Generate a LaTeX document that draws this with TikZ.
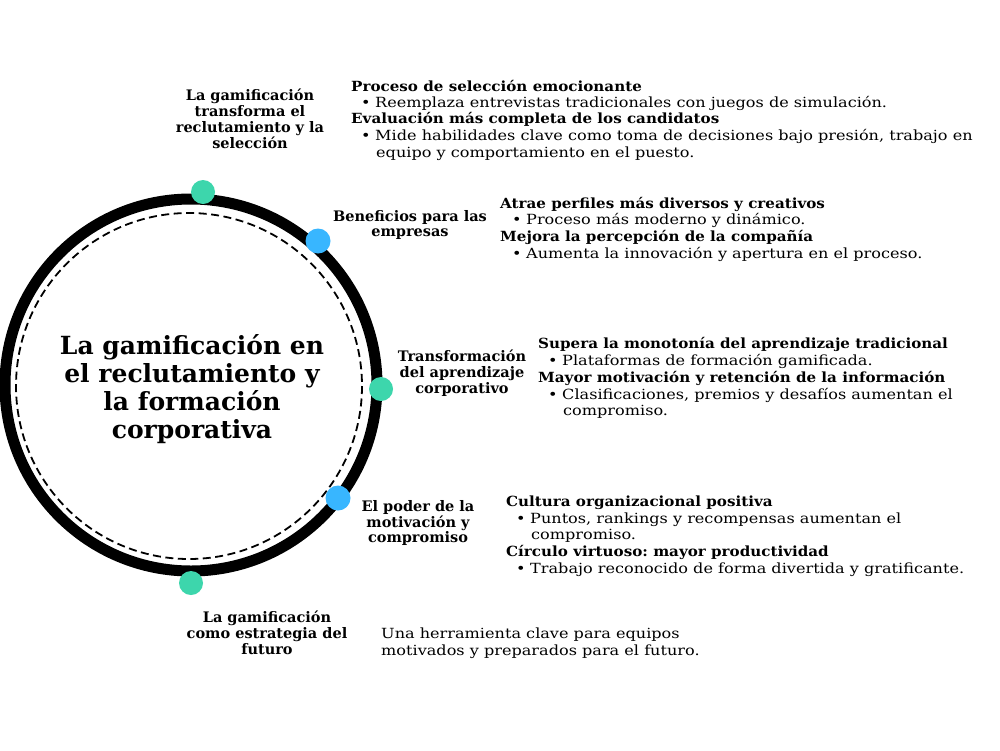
\documentclass[tikz,border=0pt]{standalone}
\usepackage{fontspec}
\setmainfont{DejaVu Serif}
\newfontfamily\bodyf[FakeStretch=1.15]{DejaVu Serif}
\newfontfamily\headf[FakeStretch=1.08]{DejaVu Serif}
\definecolor{dotgreen}{HTML}{3DD6AC}
\definecolor{dotblue}{HTML}{38B6FF}
\frenchspacing
\tikzset{
  ring/.style={line width=11pt, draw=black},
  dashring/.style={line width=1.8pt, draw=black, dash pattern=on 8pt off 4.5pt},
  gdot/.style={circle, fill=dotgreen, minimum size=24pt, inner sep=0pt},
  bdot/.style={circle, fill=dotblue, minimum size=25pt, inner sep=0pt},
  title/.style={align=center, font=\fontsize{25}{28}\selectfont\bfseries, inner sep=0pt},
  lbl/.style={align=center, font=\fontsize{14.5}{15.8}\selectfont\bfseries, inner sep=0pt},
  head/.style={anchor=base west, inner sep=0pt, font=\headf\fontsize{14}{15}\selectfont\bfseries},
  body/.style={anchor=base west, inner sep=0pt, font=\bodyf\fontsize{14}{15}\selectfont},
}
\newcommand{\bul}{\makebox[14pt][l]{\textbullet}}
\begin{document}
\begin{tikzpicture}[x=1pt,y=-1pt]
\useasboundingbox[fill=white] (0,0) rectangle (1000,750);
% circles
\node[circle, minimum size=372pt, inner sep=0pt] (ringc) at (191,385) {};
\draw[ring] (191,385) circle (186);
\draw[dashring] (189,386) circle (173);
\node[title] (t) at (192,389) {La gamificación en\\el reclutamiento y\\la formación\\corporativa};
% dots
\node[gdot] (d1) at (203,192) {};
\node[bdot] (d2) at (318,241) {};
\node[gdot] (d3) at (381,389) {};
\node[bdot] (d4) at (338,498) {};
\node[gdot] (d5) at (191,583) {};
% labels
\node[lbl] (l1) at (250,119) {La gamificación\\transforma el\\reclutamiento y la\\selección};
\node[lbl] (l2) at (410,225) {Beneficios para las\\empresas};
\node[lbl] (l3) at (462,373) {Transformación\\del aprendizaje\\corporativo};
\node[lbl] (l4) at (418,523) {El poder de la\\motivación y\\compromiso};
\node[lbl] (l5) at (267,633) {La gamificación\\como estrategia del\\futuro};
% block 1
\node[head] (a1) at (351,91) {Proceso de selección emocionante};
\node[body] (a2) at (361,107) {\bul Reemplaza entrevistas tradicionales con juegos de simulación.};
\node[head] (a3) at (351,123) {Evaluación más completa de los candidatos};
\node[body] (a4) at (361,140) {\bul Mide habilidades clave como toma de decisiones bajo presión, trabajo en};
\node[body] (a5) at (376,157) {equipo y comportamiento en el puesto.};
% block 2
\node[head] (b1) at (500,208) {Atrae perfiles más diversos y creativos};
\node[body] (b2) at (512,224) {\bul Proceso más moderno y dinámico.};
\node[head] (b3) at (500,241) {Mejora la percepción de la compañía};
\node[body] (b4) at (512,258) {\bul Aumenta la innovación y apertura en el proceso.};
% block 3
\node[head] (c1) at (538,348) {Supera la monotonía del aprendizaje tradicional};
\node[body] (c2) at (548,365) {\bul Plataformas de formación gamificada.};
\node[head] (c3) at (538,382) {Mayor motivación y retención de la información};
\node[body] (c4) at (548,399) {\bul Clasificaciones, premios y desafíos aumentan el};
\node[body] (c5) at (563,415) {compromiso.};
% block 4
\node[head] (e1) at (506,506) {Cultura organizacional positiva};
\node[body] (e2) at (516,523) {\bul Puntos, rankings y recompensas aumentan el};
\node[body] (e3) at (531,539) {compromiso.};
\node[head] (e4) at (506,556) {Círculo virtuoso: mayor productividad};
\node[body] (e5) at (516,573) {\bul Trabajo reconocido de forma divertida y gratificante.};
% block 5
\node[body] (f1) at (381,638) {Una herramienta clave para equipos};
\node[body] (f2) at (381,655) {motivados y preparados para el futuro.};
\end{tikzpicture}
\end{document}
